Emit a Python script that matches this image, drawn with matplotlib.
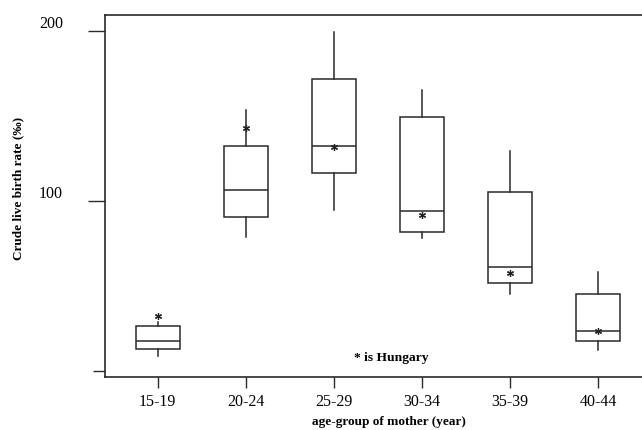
import numpy as np
import matplotlib.pyplot as plt
from matplotlib.transforms import ScaledTranslation

# birth rates per 1000 women, summary by age-group of mother
groups = ['15-19', '20-24', '25-29', '30-34', '35-39', '40-44']
whis_lo = [8.8, 78.6, 94.7, 78.1, 45.1, 12.4]
q1 = [12.8, 90.8, 116.5, 81.9, 51.9, 17.5]
med = [17.5, 106.5, 132.4, 94.1, 61.0, 23.4]
q3 = [26.3, 132.4, 171.6, 149.6, 105.5, 45.1]
whis_hi = [29.0, 153.5, 199.6, 165.3, 129.6, 58.4]
hungary = [32.4, 143.0, 132.0, 91.8, 57.5, 23.5]

plt.rcParams['font.family'] = 'Liberation Serif'
edge = '#2a2a2a'

fig = plt.figure(figsize=(6.42, 4.30), dpi=100)
ax = fig.add_axes([105/642, 53/430, 537/642, 362/430])

pos = np.arange(1, len(groups) + 1)
stats = []
for i in range(len(groups)):
    stats.append(dict(whislo=whis_lo[i], q1=q1[i], med=med[i], q3=q3[i],
                      whishi=whis_hi[i], fliers=[]))

ax.bxp(stats, positions=pos, widths=0.5, showcaps=False, showfliers=False,
       patch_artist=True,
       boxprops=dict(facecolor='white', edgecolor=edge, linewidth=1.1),
       medianprops=dict(color=edge, linewidth=1.1),
       whiskerprops=dict(color=edge, linewidth=1.1))

# Hungary marked with an asterisk
ax.plot(pos, hungary, ls='none', marker=(6, 2, 0), ms=5, mew=0.9, color='#222222', zorder=5)
ax.text(3.65, 7.6, '* is Hungary', ha='center', va='center', fontsize=9.7,
        fontweight='bold')

ax.set_xlim(0.4, 6.5)
ax.set_ylim(-3.5, 209.4)

ax.set_xticks(pos)
ax.set_xticklabels(groups, fontsize=11.5)
ax.set_yticks([100, 200])
ax.set_yticklabels(['100', '200'], fontsize=11.5)
ax.set_yticks([0], minor=True)
ax.tick_params(axis='x', direction='out', length=8, width=1.0, color=edge, pad=4)
ax.tick_params(axis='y', which='major', direction='out', length=12.2, width=1.0,
               color=edge, pad=18)
ax.tick_params(axis='y', which='minor', direction='out', length=8.6, width=1.0,
               color=edge)
for lab in ax.get_yticklabels():
    lab.set_transform(lab.get_transform() + ScaledTranslation(0, 9/100, fig.dpi_scale_trans))

for s in ['left', 'bottom', 'top']:
    ax.spines[s].set_color(edge)
    ax.spines[s].set_linewidth(1.2)
ax.spines['right'].set_visible(False)

ax.set_xlabel('age-group of mother (year)', fontsize=9.5, fontweight='bold', va='center')
ax.xaxis.set_label_coords(0.529, -0.124)
ax.set_ylabel('Crude live birth rate (‰)', fontsize=9.5, fontweight='bold', va='center')
ax.yaxis.set_label_coords(-0.162, 0.522)

fig.savefig('out.png', dpi=100)
